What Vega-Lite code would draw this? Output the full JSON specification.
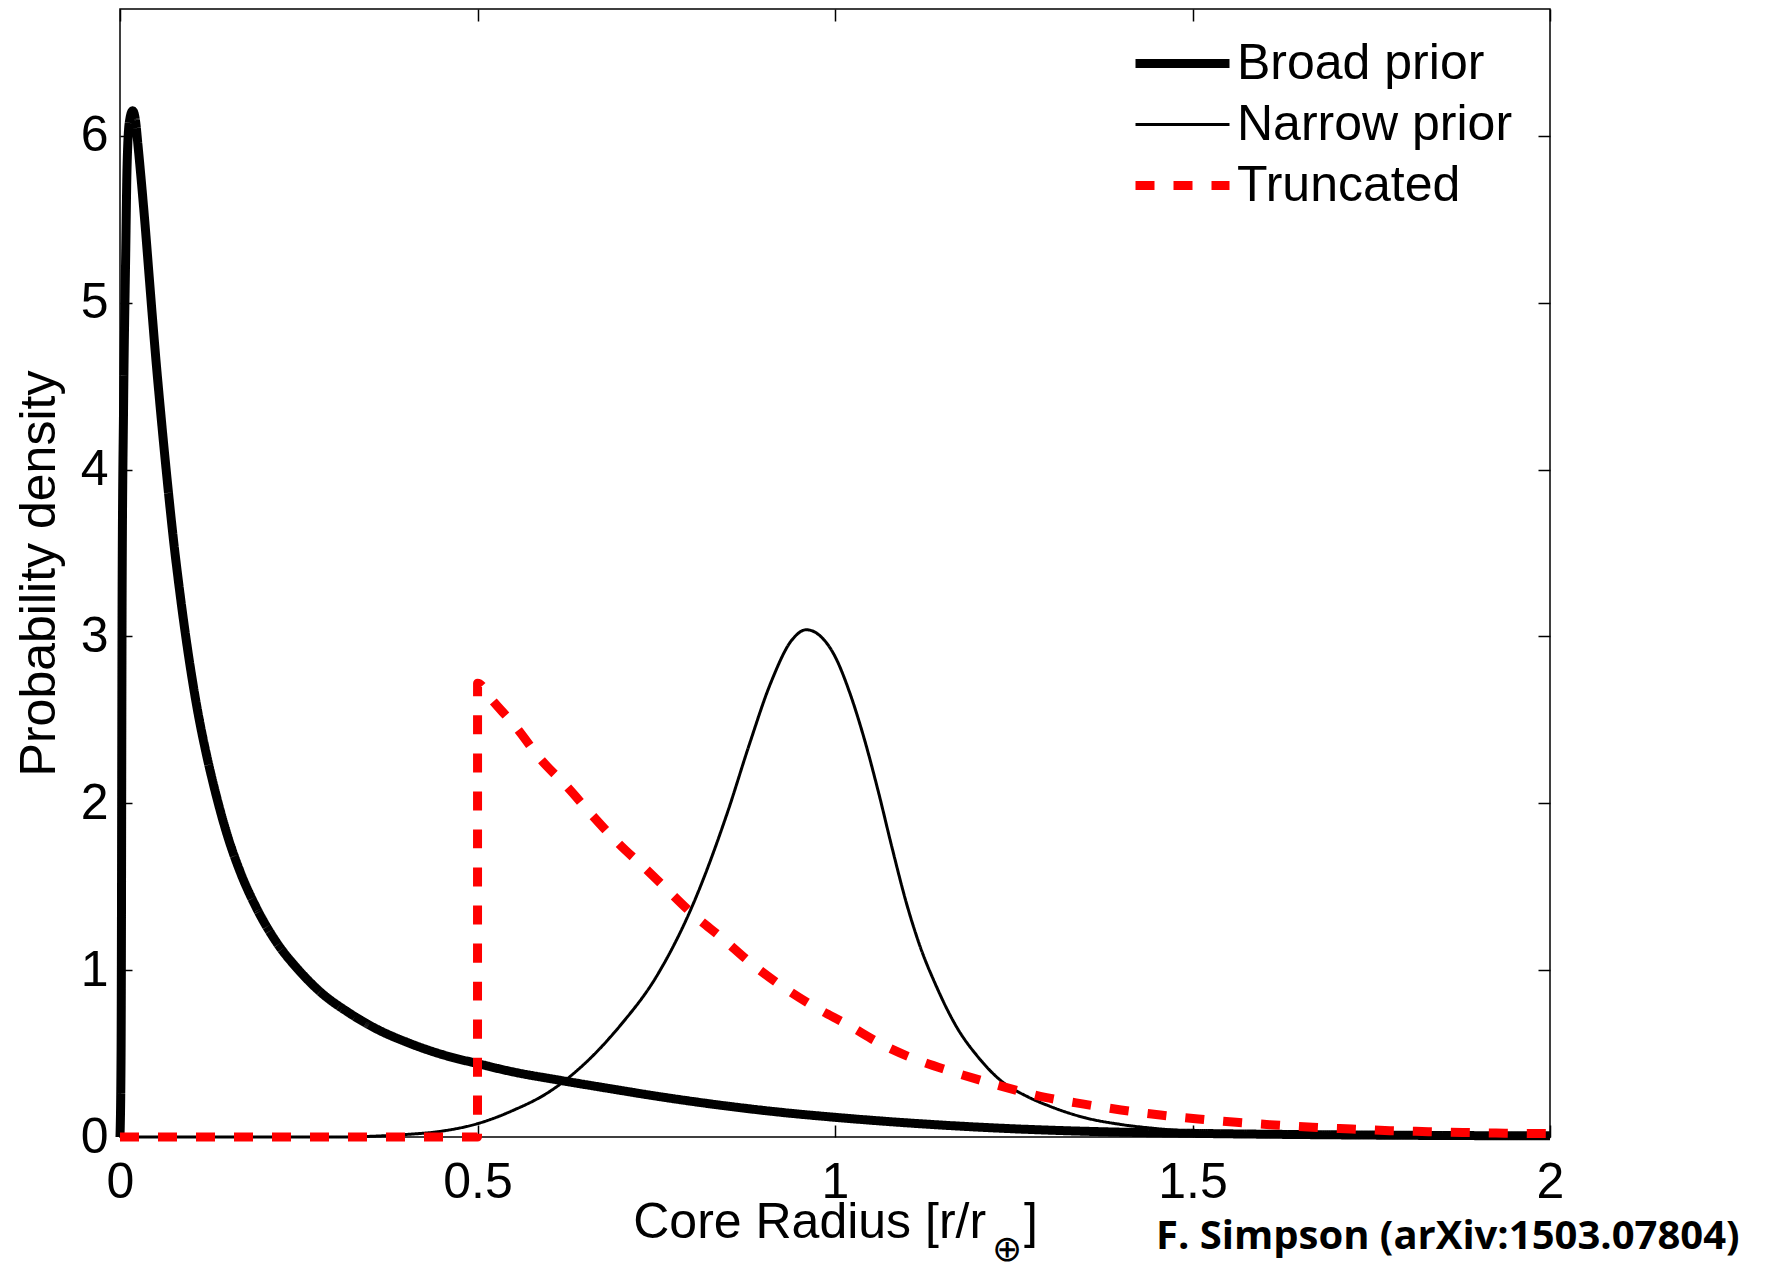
{
  "$schema": "https://vega.github.io/schema/vega-lite/v6.json",
  "width": 1430,
  "height": 1128,
  "autosize": {"type": "none"},
  "padding": {"left": 120, "top": 9, "right": 219, "bottom": 131},
  "background": "white",
  "config": {
    "view": {"stroke": "black", "strokeWidth": 1.5},
    "axis": {
      "domainColor": "black", "domainWidth": 1.5,
      "tickColor": "black", "tickWidth": 1.5, "tickSize": -12,
      "labelFont": "Liberation Sans", "labelFontSize": 50, "labelColor": "black", "labelFlush": false,
      "titleFont": "Liberation Sans", "titleFontSize": 50, "titleFontWeight": "normal", "titleColor": "black",
      "grid": false
    },
    "legend": {
      "orient": "none", "legendX": 1011, "legendY": 24, "title": null,
      "symbolType": "stroke", "symbolSize": 8836, "clipHeight": 61, "rowPadding": 0,
      "labelFont": "Liberation Sans", "labelFontSize": 50, "labelColor": "black",
      "labelOffset": 3, "labelLimit": 0, "padding": 0, "offset": 0
    }
  },
  "datasets": {
    "curves": [
      {"s": "Broad prior", "x": 0, "y": 0},
      {"s": "Broad prior", "x": 0.0015, "y": 0.5},
      {"s": "Broad prior", "x": 0.002, "y": 1.2},
      {"s": "Broad prior", "x": 0.0025, "y": 2.4},
      {"s": "Broad prior", "x": 0.003, "y": 3.3},
      {"s": "Broad prior", "x": 0.005, "y": 4.38},
      {"s": "Broad prior", "x": 0.008, "y": 5.3},
      {"s": "Broad prior", "x": 0.0098, "y": 5.8},
      {"s": "Broad prior", "x": 0.013, "y": 6.08},
      {"s": "Broad prior", "x": 0.0178, "y": 6.15},
      {"s": "Broad prior", "x": 0.022, "y": 6.08},
      {"s": "Broad prior", "x": 0.025, "y": 5.95},
      {"s": "Broad prior", "x": 0.03, "y": 5.72},
      {"s": "Broad prior", "x": 0.035, "y": 5.47},
      {"s": "Broad prior", "x": 0.04, "y": 5.2},
      {"s": "Broad prior", "x": 0.045, "y": 4.93},
      {"s": "Broad prior", "x": 0.05, "y": 4.67},
      {"s": "Broad prior", "x": 0.055, "y": 4.43},
      {"s": "Broad prior", "x": 0.06, "y": 4.2},
      {"s": "Broad prior", "x": 0.065, "y": 3.98},
      {"s": "Broad prior", "x": 0.07, "y": 3.77},
      {"s": "Broad prior", "x": 0.075, "y": 3.57},
      {"s": "Broad prior", "x": 0.08, "y": 3.39},
      {"s": "Broad prior", "x": 0.09, "y": 3.06},
      {"s": "Broad prior", "x": 0.1, "y": 2.77},
      {"s": "Broad prior", "x": 0.11, "y": 2.52},
      {"s": "Broad prior", "x": 0.12, "y": 2.31},
      {"s": "Broad prior", "x": 0.135, "y": 2.04},
      {"s": "Broad prior", "x": 0.15, "y": 1.81},
      {"s": "Broad prior", "x": 0.168, "y": 1.59},
      {"s": "Broad prior", "x": 0.19, "y": 1.38},
      {"s": "Broad prior", "x": 0.22, "y": 1.16},
      {"s": "Broad prior", "x": 0.25, "y": 1.0},
      {"s": "Broad prior", "x": 0.28, "y": 0.87},
      {"s": "Broad prior", "x": 0.32, "y": 0.745},
      {"s": "Broad prior", "x": 0.36, "y": 0.645},
      {"s": "Broad prior", "x": 0.4, "y": 0.57},
      {"s": "Broad prior", "x": 0.45, "y": 0.495},
      {"s": "Broad prior", "x": 0.5, "y": 0.44},
      {"s": "Broad prior", "x": 0.55, "y": 0.39},
      {"s": "Broad prior", "x": 0.615, "y": 0.34},
      {"s": "Broad prior", "x": 0.685, "y": 0.29},
      {"s": "Broad prior", "x": 0.75, "y": 0.245},
      {"s": "Broad prior", "x": 0.85, "y": 0.185},
      {"s": "Broad prior", "x": 0.92, "y": 0.15},
      {"s": "Broad prior", "x": 1.0, "y": 0.118},
      {"s": "Broad prior", "x": 1.1, "y": 0.085},
      {"s": "Broad prior", "x": 1.23, "y": 0.053},
      {"s": "Broad prior", "x": 1.37, "y": 0.032},
      {"s": "Broad prior", "x": 1.5, "y": 0.022},
      {"s": "Broad prior", "x": 1.7, "y": 0.013},
      {"s": "Broad prior", "x": 1.85, "y": 0.009},
      {"s": "Broad prior", "x": 2.0, "y": 0.007},
      {"s": "Narrow prior", "x": 0, "y": 0},
      {"s": "Narrow prior", "x": 0.3, "y": 0},
      {"s": "Narrow prior", "x": 0.35, "y": 0.004},
      {"s": "Narrow prior", "x": 0.4, "y": 0.015},
      {"s": "Narrow prior", "x": 0.45, "y": 0.035},
      {"s": "Narrow prior", "x": 0.5, "y": 0.08},
      {"s": "Narrow prior", "x": 0.55, "y": 0.16},
      {"s": "Narrow prior", "x": 0.6, "y": 0.27},
      {"s": "Narrow prior", "x": 0.65, "y": 0.44},
      {"s": "Narrow prior", "x": 0.7, "y": 0.67},
      {"s": "Narrow prior", "x": 0.75, "y": 0.96},
      {"s": "Narrow prior", "x": 0.8, "y": 1.38},
      {"s": "Narrow prior", "x": 0.85, "y": 1.95},
      {"s": "Narrow prior", "x": 0.88, "y": 2.35},
      {"s": "Narrow prior", "x": 0.91, "y": 2.72},
      {"s": "Narrow prior", "x": 0.94, "y": 2.98},
      {"s": "Narrow prior", "x": 0.96, "y": 3.04},
      {"s": "Narrow prior", "x": 0.98, "y": 3.0},
      {"s": "Narrow prior", "x": 1.0, "y": 2.88},
      {"s": "Narrow prior", "x": 1.02, "y": 2.67},
      {"s": "Narrow prior", "x": 1.04, "y": 2.4},
      {"s": "Narrow prior", "x": 1.06, "y": 2.08},
      {"s": "Narrow prior", "x": 1.08, "y": 1.73},
      {"s": "Narrow prior", "x": 1.1, "y": 1.4},
      {"s": "Narrow prior", "x": 1.12, "y": 1.13},
      {"s": "Narrow prior", "x": 1.14, "y": 0.92},
      {"s": "Narrow prior", "x": 1.17, "y": 0.66},
      {"s": "Narrow prior", "x": 1.2, "y": 0.48},
      {"s": "Narrow prior", "x": 1.23, "y": 0.345},
      {"s": "Narrow prior", "x": 1.27, "y": 0.24},
      {"s": "Narrow prior", "x": 1.3, "y": 0.185},
      {"s": "Narrow prior", "x": 1.35, "y": 0.115},
      {"s": "Narrow prior", "x": 1.4, "y": 0.075},
      {"s": "Narrow prior", "x": 1.45, "y": 0.05},
      {"s": "Narrow prior", "x": 1.5, "y": 0.033},
      {"s": "Narrow prior", "x": 1.6, "y": 0.016},
      {"s": "Narrow prior", "x": 1.75, "y": 0.007},
      {"s": "Narrow prior", "x": 2.0, "y": 0.002},
      {"s": "Truncated", "x": 0, "y": 0},
      {"s": "Truncated", "x": 0.5, "y": 0},
      {"s": "Truncated", "x": 0.5001, "y": 2.72},
      {"s": "Truncated", "x": 0.52, "y": 2.62},
      {"s": "Truncated", "x": 0.555, "y": 2.45},
      {"s": "Truncated", "x": 0.587, "y": 2.27},
      {"s": "Truncated", "x": 0.625, "y": 2.1},
      {"s": "Truncated", "x": 0.66, "y": 1.93},
      {"s": "Truncated", "x": 0.697, "y": 1.76},
      {"s": "Truncated", "x": 0.737, "y": 1.6},
      {"s": "Truncated", "x": 0.76, "y": 1.505},
      {"s": "Truncated", "x": 0.8, "y": 1.34},
      {"s": "Truncated", "x": 0.844, "y": 1.185},
      {"s": "Truncated", "x": 0.883, "y": 1.04},
      {"s": "Truncated", "x": 0.925, "y": 0.906},
      {"s": "Truncated", "x": 0.97, "y": 0.783},
      {"s": "Truncated", "x": 1.019, "y": 0.67},
      {"s": "Truncated", "x": 1.065, "y": 0.556},
      {"s": "Truncated", "x": 1.114, "y": 0.463},
      {"s": "Truncated", "x": 1.165, "y": 0.39},
      {"s": "Truncated", "x": 1.228, "y": 0.31},
      {"s": "Truncated", "x": 1.294, "y": 0.238},
      {"s": "Truncated", "x": 1.348, "y": 0.197},
      {"s": "Truncated", "x": 1.4, "y": 0.162},
      {"s": "Truncated", "x": 1.455, "y": 0.132},
      {"s": "Truncated", "x": 1.508, "y": 0.108},
      {"s": "Truncated", "x": 1.561, "y": 0.088},
      {"s": "Truncated", "x": 1.615, "y": 0.072},
      {"s": "Truncated", "x": 1.668, "y": 0.058},
      {"s": "Truncated", "x": 1.723, "y": 0.048},
      {"s": "Truncated", "x": 1.776, "y": 0.038},
      {"s": "Truncated", "x": 1.83, "y": 0.032},
      {"s": "Truncated", "x": 1.884, "y": 0.027},
      {"s": "Truncated", "x": 1.937, "y": 0.023},
      {"s": "Truncated", "x": 2.0, "y": 0.02}
    ],
    "notes": [
      {"t": "\u2295", "x": 1.2406, "y": -0.68, "kind": "sub"},
      {"t": "F. Simpson (arXiv:1503.07804)", "x": 1.857, "y": -0.67, "kind": "credit"}
    ]
  },
  "layer": [
    {
      "mark": {"type": "rule", "color": "black", "strokeWidth": 1.5, "strokeDash": [12, 10]},
      "encoding": {
        "x": {"datum": 1, "type": "quantitative", "scale": {"domain": [0, 2], "nice": false},
              "axis": {"orient": "top", "values": [0, 0.5, 1, 1.5, 2], "labels": false, "title": null, "domain": false}},
        "y": {"datum": 0, "type": "quantitative", "scale": {"domain": [0, 6.76], "nice": false},
              "axis": {"orient": "right", "values": [0, 1, 2, 3, 4, 5, 6], "labels": false, "title": null, "domain": false}},
        "y2": {"datum": 6.76}
      }
    },
    {
      "data": {"name": "curves"},
      "mark": {"type": "line", "interpolate": "monotone", "strokeJoin": "round", "clip": false},
      "encoding": {
        "x": {"field": "x", "type": "quantitative", "scale": {"domain": [0, 2], "nice": false},
              "axis": {"orient": "bottom", "values": [0, 0.5, 1, 1.5, 2], "format": "~g", "labelPadding": 32,
                       "title": "Core Radius [r/r\u00a0\u00a0\u2009]", "titleBaseline": "alphabetic", "titlePadding": 30, "domain": false}},
        "y": {"field": "y", "type": "quantitative", "scale": {"domain": [0, 6.76], "nice": false},
              "axis": {"orient": "left", "values": [0, 1, 2, 3, 4, 5, 6], "format": "d", "labelPadding": 24,
                       "title": "Probability density", "titlePadding": 16, "domain": false}},
        "color": {"field": "s", "type": "nominal",
                  "scale": {"domain": ["Broad prior", "Narrow prior", "Truncated"], "range": ["#000000", "#000000", "#ff0000"]}},
        "strokeDash": {"field": "s", "type": "nominal",
                       "scale": {"type": "ordinal", "domain": ["Broad prior", "Narrow prior", "Truncated"], "range": [[1, 0], [1, 0], [19, 19]]}},
        "strokeWidth": {"field": "s", "type": "nominal",
                        "scale": {"type": "ordinal", "domain": ["Broad prior", "Narrow prior", "Truncated"], "range": [9, 3, 9]}}
      }
    },
    {
      "data": {"name": "notes"},
      "transform": [{"filter": "datum.kind === 'sub'"}],
      "mark": {"type": "text", "font": "DejaVu Sans", "fontSize": 36, "color": "black", "align": "center", "baseline": "middle", "clip": false},
      "encoding": {
        "x": {"field": "x", "type": "quantitative", "axis": null},
        "y": {"field": "y", "type": "quantitative", "axis": null},
        "text": {"field": "t"}
      }
    },
    {
      "data": {"name": "notes"},
      "transform": [{"filter": "datum.kind === 'credit'"}],
      "mark": {"type": "text", "font": "Open Sans", "fontWeight": "bold", "fontSize": 40, "color": "black", "align": "center", "baseline": "alphabetic", "clip": false},
      "encoding": {
        "x": {"field": "x", "type": "quantitative", "axis": null},
        "y": {"field": "y", "type": "quantitative", "axis": null},
        "text": {"field": "t"}
      }
    }
  ],
  "resolve": {"axis": {"x": "independent", "y": "independent"}}
}
